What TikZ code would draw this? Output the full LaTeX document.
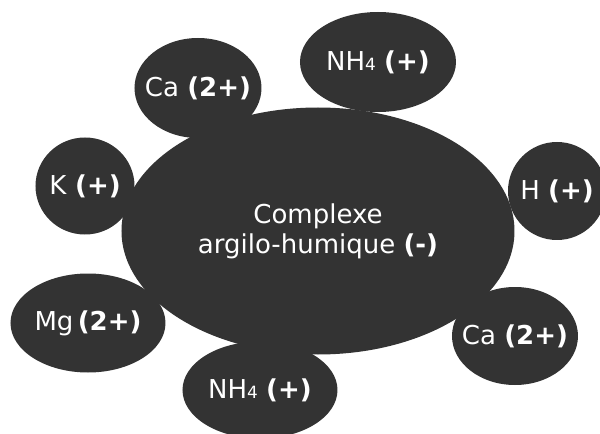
\documentclass[tikz,border=0pt]{standalone}
\usepackage{fontspec}
\setmainfont{DejaVu Sans}
\usetikzlibrary{shapes}
\definecolor{blobgray}{HTML}{333333}
\newcommand{\nhfour}{NH{\fontsize{12}{12}\selectfont 4}}
\newcommand{\ion}[1]{\makebox[0pt]{#1}}

\begin{document}
\begin{tikzpicture}[font=\fontsize{18.5}{21.3}\selectfont]
        \tikzstyle{bigblob} = [ellipse, minimum width = 9.825cm, minimum height = 6.175cm, inner sep=0pt, text centered, align=center, fill=blobgray, text=white]
        \tikzstyle{ionblob} = [ellipse, inner sep=0pt, text centered, fill=blobgray, text=white]

        \useasboundingbox (-7.95,-5.075) rectangle (7.05,5.775);

        \node (Cplx) [bigblob] at (0,0) {Complexe \\ argilo-humique \textbf{(-)}};
        \node (CaTop) [ionblob, minimum width=3.175cm, minimum height=2.5cm] at (-3.0,3.575) {\ion{Ca \textbf{(2+)}}};
        \node (NHTop) [ionblob, minimum width=3.9cm, minimum height=2.5cm] at (1.5,4.225) {\ion{\nhfour{} \textbf{(+)}}};
        \node (K) [ionblob, minimum width=2.475cm, minimum height=2.425cm] at (-5.825,1.125) {\ion{K \textbf{(+)}}};
        \node (H) [ionblob, minimum width=2.45cm, minimum height=2.45cm] at (5.975,1.0) {\ion{H \textbf{(+)}}};
        \node (Mg) [ionblob, minimum width=3.875cm, minimum height=2.475cm] at (-5.75,-2.3) {\ion{Mg\,\textbf{(2+)}}};
        \node (NHBot) [ionblob, minimum width=3.875cm, minimum height=2.425cm] at (-1.45,-3.975) {\ion{\nhfour{} \textbf{(+)}}};
        \node (CaBot) [ionblob, minimum width=3.15cm, minimum height=2.45cm] at (4.925,-2.625) {\ion{Ca \textbf{(2+)}}};

    \end{tikzpicture}
\end{document}
